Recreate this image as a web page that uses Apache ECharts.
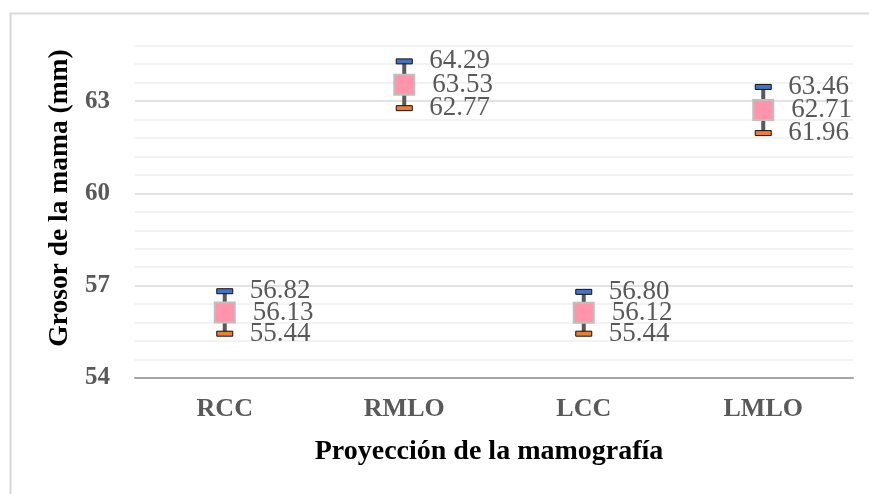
<!DOCTYPE html>
<html>
<head>
<meta charset="utf-8">
<script src="https://cdn.jsdelivr.net/npm/echarts@6/dist/echarts.min.js"></script>
<style>html,body{margin:0;padding:0;background:#fff;}#c{width:869px;height:494px;}</style>
</head>
<body>
<div id="c"></div>
<script>
var categories = ['RCC', 'RMLO', 'LCC', 'LMLO'];
var meanValues = [56.13, 63.53, 56.12, 62.71];
var upperValues = [56.82, 64.29, 56.80, 63.46];
var lowerValues = [55.44, 62.77, 55.44, 61.96];
var yTickLabels = [54, 57, 60, 63];
var xTitle = 'Proyección de la mamografía';
var yTitle = 'Grosor de la mama (mm)';

var FONT = '"Liberation Serif", "Times New Roman", serif';
var chart = echarts.init(document.getElementById('c'));
var data = categories.map(function (c, i) { return [i, meanValues[i], upperValues[i], lowerValues[i]]; });

chart.setOption({
  animation: false,
  graphic: [{
    type: 'rect', left: 8, top: 11, shape: { width: 1000, height: 1000 },
    style: { fill: 'none', stroke: '#d9d9d9', lineWidth: 2 }, z: -10
  }, {
    type: 'text', x: 60, y: 198, rotation: Math.PI / 2,
    style: { text: yTitle, fill: '#000', font: 'bold 27.5px ' + FONT, textAlign: 'center', textVerticalAlign: 'middle' }
  }, {
    type: 'text', x: 489, y: 452,
    style: { text: xTitle, fill: '#000', font: 'bold 28px ' + FONT, textAlign: 'center', textVerticalAlign: 'middle' }
  }],
  grid: { left: 135, right: 16, top: 45.7, bottom: 116 },
  xAxis: {
    type: 'category', data: categories, boundaryGap: true,
    axisTick: { show: false },
    axisLine: { lineStyle: { color: '#a6a6a6', width: 2 } },
    axisLabel: { color: '#595959', fontFamily: FONT, fontWeight: 'bold', fontSize: 26, margin: 18 }
  },
  yAxis: {
    type: 'value', min: 54, max: 64.8, interval: 0.6,
    axisLine: { show: false }, axisTick: { show: false },
    splitLine: { lineStyle: { color: ['#d9d9d9', '#efefef', '#efefef', '#efefef', '#efefef'], width: 1.5 } },
    axisLabel: {
      color: '#595959', fontFamily: FONT, fontWeight: 'bold', fontSize: 25, margin: 25,
      formatter: function (v) {
        var r = Math.round(v * 10) / 10;
        return yTickLabels.indexOf(r) >= 0 ? String(r) : '';
      }
    }
  },
  series: [{
    type: 'custom',
    data: data,
    renderItem: function (params, api) {
      var i = api.value(0);
      var pm = api.coord([i, api.value(1)]);
      var pu = api.coord([i, api.value(2)]);
      var pl = api.coord([i, api.value(3)]);
      var x = pm[0];
      var txt = function (val, y, dx) {
        return { type: 'text', style: { x: x + dx, y: y, text: val.toFixed(2), fill: '#595959', font: '27px ' + FONT, textVerticalAlign: 'middle', textAlign: 'left' } };
      };
      return {
        type: 'group',
        children: [
          { type: 'line', shape: { x1: x, y1: pu[1], x2: x, y2: pl[1] }, style: { stroke: '#595959', lineWidth: 4 } },
          { type: 'rect', shape: { x: x - 8, y: pu[1] - 2.5, width: 16, height: 5 }, style: { fill: '#4472c4', stroke: '#111', lineWidth: 1 } },
          { type: 'rect', shape: { x: x - 8, y: pl[1] - 2.5, width: 16, height: 5 }, style: { fill: '#ed7d31', stroke: '#111', lineWidth: 1 } },
          { type: 'rect', shape: { x: x - 10, y: pm[1] - 10, width: 20, height: 20 }, style: { fill: '#ff94ab', stroke: '#bfbfbf', lineWidth: 2 } },
          txt(api.value(2), pu[1], 25),
          txt(api.value(1), pm[1], 28),
          txt(api.value(3), pl[1], 25)
        ]
      };
    }
  }]
});
</script>
</body>
</html>
